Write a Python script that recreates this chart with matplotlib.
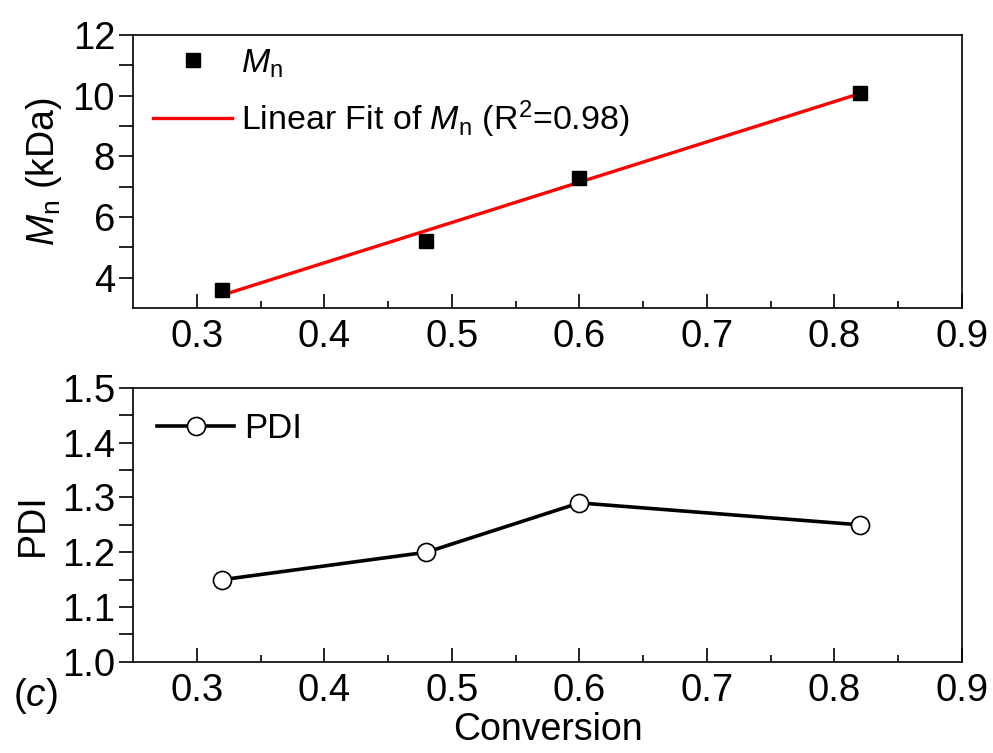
import numpy as np
import matplotlib.pyplot as plt

plt.rcParams['font.family'] = ['Liberation Sans', 'DejaVu Sans']
plt.rcParams['mathtext.fontset'] = 'custom'
plt.rcParams['mathtext.rm'] = 'Liberation Sans'
plt.rcParams['mathtext.it'] = 'Liberation Sans:italic'

# data
conversion = [0.32, 0.48, 0.60, 0.82]
mn = [3.6, 5.2, 7.3, 10.1]
pdi = [1.15, 1.20, 1.29, 1.25]
xticks = [0.3, 0.4, 0.5, 0.6, 0.7, 0.8, 0.9]
xlabels = ['0.3', '0.4', '0.5', '0.6', '0.7', '0.8', '0.9']

slope, icpt = np.polyfit(conversion, mn, 1)
fit_x = np.array([conversion[0], conversion[-1]])
fit_y = slope * fit_x + icpt

fig = plt.figure(figsize=(9.93, 7.53), dpi=100)
ax1 = fig.add_axes([0.134, 0.591, 0.8348, 0.3625])
ax2 = fig.add_axes([0.134, 0.121, 0.8348, 0.364])

ax1.plot(conversion, mn, 's', color='black', markersize=10, label=r'$M_\mathrm{n}$', zorder=3)
ax1.plot(fit_x, fit_y, '-', color='red', lw=2.4, label=r'Linear Fit of $M_\mathrm{n}$ (R$^2$=0.98)')
ax1.set_ylim(3, 12)
ax1.set_yticks([4, 6, 8, 10, 12])
ax1.set_yticks([5, 7, 9, 11], minor=True)
ax1.set_ylabel(r'$M_\mathrm{n}$ (kDa)', fontsize=27, labelpad=6)
ax1.legend(loc='upper left', frameon=False, fontsize=24.5, handlelength=2.3,
           handletextpad=0.27, labelspacing=0.55, borderaxespad=0.2,
           bbox_to_anchor=(0.0, 1.03))

ax2.plot(conversion, pdi, '-o', color='black', lw=2.6, markersize=13,
         markerfacecolor='white', markeredgecolor='black', markeredgewidth=1.2, label='PDI')
ax2.set_ylim(1.0, 1.5)
ax2.set_yticks([1.0, 1.1, 1.2, 1.3, 1.4, 1.5])
ax2.set_yticks([1.05, 1.15, 1.25, 1.35, 1.45], minor=True)
ax2.set_yticklabels(['1.0', '1.1', '1.2', '1.3', '1.4', '1.5'])
ax2.set_ylabel('PDI', fontsize=27, labelpad=8)
ax2.set_xlabel('Conversion', fontsize=27, labelpad=2)
ax2.legend(loc='upper left', frameon=False, fontsize=25, handlelength=2.2,
           handletextpad=0.3, borderaxespad=0.3)

for ax in (ax1, ax2):
    ax.set_xlim(0.25, 0.9)
    ax.set_xticks(xticks)
    ax.set_xticklabels(xlabels)
    ax.set_xticks([0.35, 0.45, 0.55, 0.65, 0.75, 0.85], minor=True)
    ax.tick_params(axis='x', which='major', direction='in', length=10, width=1.2, labelsize=27.5, pad=8)
    ax.tick_params(axis='x', which='minor', direction='in', length=5, width=1.2)
    ax.tick_params(axis='y', which='major', direction='out', length=10, width=1.2, labelsize=27.5, pad=3)
    ax.tick_params(axis='y', which='minor', direction='out', length=10, width=1.2)
    for s in ax.spines.values():
        s.set_linewidth(1.2)

fig.text(0.013, 0.076, r'($c$)', fontsize=28, va='center')

fig.savefig('out.png', dpi=100)
